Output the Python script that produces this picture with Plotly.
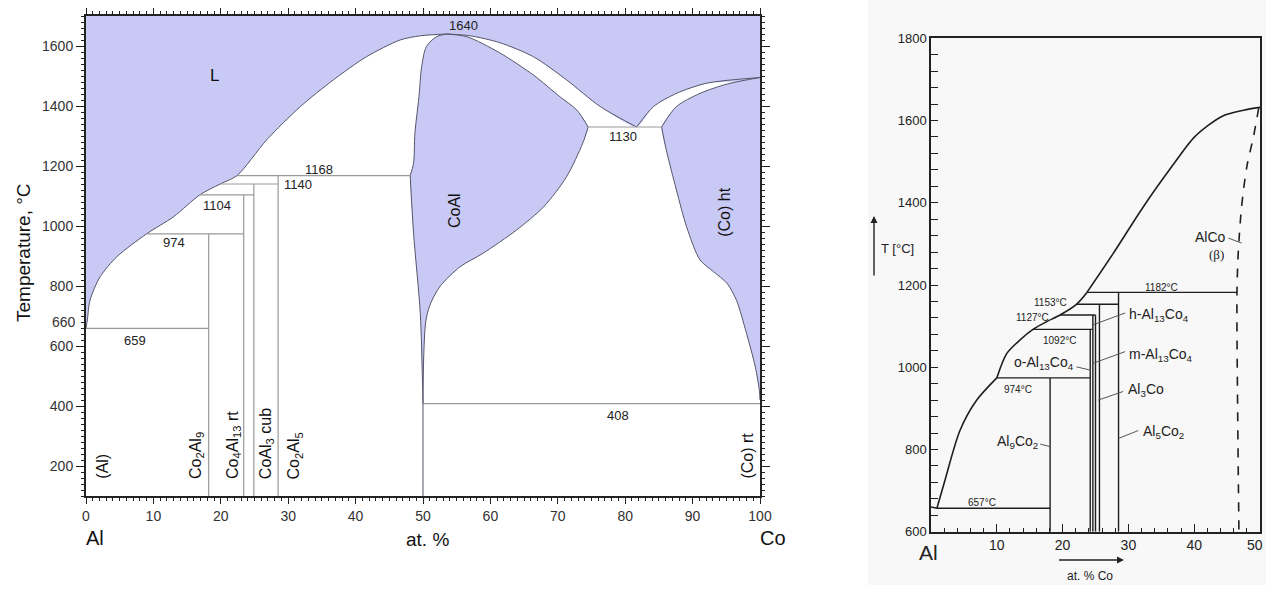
import plotly.graph_objects as go

OFF = 0
W, H = 1266, 615

# ================= LEFT DIAGRAM (full Al–Co system) =================
liqA_x = [0, 0.2, 0.6, 2.1, 4.6, 9.0, 13.0, 16.9, 19.9, 22.4, 26.8, 31.8, 36.7, 41.6, 46.6, 49.6, 53.5]
liqA_T = [660, 687, 753, 831, 898, 974, 1031, 1104, 1140, 1168, 1287, 1398, 1487, 1564, 1620, 1634, 1640]
liqB_x = [53.5, 57.0, 61.4, 66.4, 71.3, 76.3, 81.7]
liqB_T = [1640, 1634, 1611, 1564, 1487, 1398, 1330]
liqC_x = [81.7, 84.2, 87.6, 92.1, 100]
liqC_T = [1330, 1398, 1442, 1476, 1495]
coalL_x = [50, 49.9, 49.6, 48.6, 48.1]
coalL_T = [408, 500, 709, 976, 1168]
coalU_x = [48.1, 48.6, 48.8, 49.4, 49.8, 50.5, 52.0, 53.5]
coalU_T = [1168, 1209, 1309, 1431, 1531, 1598, 1631, 1640]
coalR_x = [53.5, 56.5, 61.4, 66.4, 70.3, 72.8, 74.5]
coalR_T = [1640, 1631, 1577, 1503, 1431, 1387, 1330]
coalB_x = [74.5, 73.7, 71.3, 67.9, 63.9, 58.9, 55.5, 52.5, 51.0, 50.4, 50.1, 50]
coalB_T = [1330, 1276, 1164, 1064, 987, 909, 864, 798, 735, 680, 560, 408]
cohtS_x = [85.4, 87.6, 91.1, 95.1, 100]
cohtS_T = [1330, 1398, 1442, 1473, 1495]
cohtB_x = [85.4, 86.1, 87.6, 89.1, 91.1, 93.1, 95.1, 96.5, 98.0, 99.3, 99.9, 100]
cohtB_T = [1330, 1253, 1120, 998, 887, 848, 809, 753, 642, 531, 453, 420]
iso_T = [659, 974, 1104, 1140, 1168, 1330, 408]
iso_x0 = [0, 9.0, 16.9, 19.9, 22.4, 74.5, 50]
iso_x1 = [18.2, 23.4, 24.9, 28.5, 48.1, 85.4, 100]
iso_lbl = ["659", "974", "1104", "1140", "1168", "1130", "408"]
iso_lbl_x = [7.3, 13.0, 19.4, 31.5, 34.5, 79.7, 79.0]
iso_lbl_T = [617, 944, 1070, 1137, 1190, 1298, 370]
ph_x = [18.2, 23.4, 24.9, 28.5]
ph_Ttop = [974, 1104, 1140, 1168]
ph_lbl = ["Co<sub>2</sub>Al<sub>9</sub>", "Co<sub>4</sub>Al<sub>13</sub> rt",
          "CoAl<sub>3</sub> cub", "Co<sub>2</sub>Al<sub>5</sub>"]
ph_lbl_x = [16.4, 21.8, 26.8, 31.0]
L_ticks = [200, 400, 600, 800, 1000, 1200, 1400, 1600]

# ================= RIGHT DIAGRAM (Al-rich part) =================
rliqA_x = [0, 0.9]
rliqA_T = [660, 657]
rliqB_x = [0.9, 2.1, 4.4, 6.9, 10.0]
rliqB_T = [657, 724, 846, 919, 974]
rliqC_x = [10.0, 11.5, 13.5, 15.5, 17.6, 19.6, 22.1, 23.7]
rliqC_T = [974, 1033, 1066, 1092, 1111, 1127, 1153, 1182]
rliqD_x = [23.7, 27.7, 32.3, 36.6, 40.1, 44.2, 47.5, 50]
rliqD_T = [1182, 1277, 1391, 1488, 1561, 1610, 1625, 1632]
r_dash_x = [49.8, 49.0, 48.0, 47.2, 46.7, 46.5, 46.6, 46.8]
r_dash_T = [1630, 1560, 1488, 1390, 1280, 1182, 900, 600]
r_iso_T = [657, 974, 1092, 1127, 1153, 1182]
r_iso_x0 = [0.9, 10.0, 15.5, 19.6, 22.1, 23.7]
r_iso_x1 = [18.1, 24.2, 24.6, 25.0, 28.5, 46.5]
r_iso_lbl = ["657°C", "974°C", "1092°C", "1127°C", "1153°C", "1182°C"]
r_iso_lbl_x = [7.7, 13.2, 19.6, 15.5, 18.1, 35.1]
r_iso_lbl_T = [671, 947, 1066, 1120, 1157, 1195]
r_ph_x = [18.1, 24.2, 24.6, 25.0, 25.6, 28.5]
r_ph_Ttop = [974, 1092, 1127, 1127, 1153, 1182]
r_lbl_text = ["h-Al<sub>13</sub>Co<sub>4</sub>", "m-Al<sub>13</sub>Co<sub>4</sub>",
              "o-Al<sub>13</sub>Co<sub>4</sub>", "Al<sub>3</sub>Co", "Al<sub>5</sub>Co<sub>2</sub>",
              "Al<sub>9</sub>Co<sub>2</sub>", "AlCo"]
r_lbl_x = [29.8, 29.8, 22.0, 29.6, 31.9, 16.5, 45.1]
r_lbl_T = [1127, 1030, 1011, 945, 843, 817, 1317]
r_lbl_anchor = ["left", "left", "right", "left", "left", "right", "right"]
r_lead_x0 = [29.5, 29.5, 22.1, 29.2, 31.5, 16.6, 45.2]
r_lead_T0 = [1132, 1038, 1001, 941, 846, 813, 1314]
r_lead_x1 = [24.6, 24.7, 24.2, 25.4, 28.5, 18.1, 47.2]
r_lead_T1 = [1103, 1010, 993, 920, 827, 807, 1302]
R_ticks = [600, 800, 1000, 1200, 1400, 1600, 1800]
R_xticks = [10, 20, 30, 40, 50]
R_xticktext = ["10", "20", "30", "40", ""]   # "50" is drawn right-aligned at the page edge

FILL = "#c9c9f6"
EDGE = "#55556a"
GRAY = "#9a9a9a"
INK = "#1e1e1e"
FONT = "Liberation Sans, Arial, sans-serif"


def px(x):
    return (x - OFF) / W


def py(y):
    return 1 - (y - OFF) / H


def segs(x0, x1, y0, y1):
    xs, ys = [], []
    for a, b, c, d in zip(x0, x1, y0, y1):
        xs += [a, b, None]
        ys += [c, d, None]
    return xs, ys


fig = go.Figure()


def fill_poly(xs, ys, ax="x", ay="y"):
    fig.add_trace(go.Scatter(x=xs, y=ys, fill="toself", fillcolor=FILL, mode="lines",
                             line=dict(color="rgba(0,0,0,0)", width=0, shape="spline", smoothing=0.6),
                             xaxis=ax, yaxis=ay, hoverinfo="skip"))


def curve(xs, ys, color, width, ax="x", ay="y", dash="solid", smooth=0.8):
    fig.add_trace(go.Scatter(x=xs, y=ys, mode="lines",
                             line=dict(color=color, width=width, dash=dash, shape="spline", smoothing=smooth),
                             xaxis=ax, yaxis=ay, hoverinfo="skip"))


fill_poly(liqA_x + liqB_x[1:] + liqC_x[1:] + [100, 100, 0, 0],
          liqA_T + liqB_T[1:] + liqC_T[1:] + [1600, 1700, 1700, 1000])
fill_poly(coalL_x + coalU_x[1:] + coalR_x[1:] + coalB_x[1:],
          coalL_T + coalU_T[1:] + coalR_T[1:] + coalB_T[1:])
fill_poly(cohtS_x + cohtB_x[::-1][1:], cohtS_T + cohtB_T[::-1][1:])

for cx, cy in [(liqA_x, liqA_T), (liqB_x, liqB_T), (liqC_x, liqC_T), (coalL_x, coalL_T),
               (coalU_x, coalU_T), (coalR_x, coalR_T), (coalB_x, coalB_T),
               (cohtS_x, cohtS_T), (cohtB_x, cohtB_T)]:
    curve(cx, cy, EDGE, 1)

xs, ys = segs(iso_x0, iso_x1, iso_T, iso_T)
fig.add_trace(go.Scatter(x=xs, y=ys, mode="lines", line=dict(color=GRAY, width=1.2),
                         xaxis="x", yaxis="y", hoverinfo="skip"))
xs, ys = segs(ph_x, ph_x, [100] * len(ph_x), ph_Ttop)
fig.add_trace(go.Scatter(x=xs, y=ys, mode="lines", line=dict(color=GRAY, width=1.2),
                         xaxis="x", yaxis="y", hoverinfo="skip"))
fig.add_trace(go.Scatter(x=[50, 50], y=[100, 408], mode="lines", line=dict(color=EDGE, width=1),
                         xaxis="x", yaxis="y", hoverinfo="skip"))

for cx, cy in [(rliqA_x, rliqA_T), (rliqB_x, rliqB_T), (rliqC_x, rliqC_T), (rliqD_x, rliqD_T)]:
    curve(cx, cy, INK, 1.6, "x2", "y2")
curve(r_dash_x, r_dash_T, INK, 1.6, "x2", "y2", dash="dash")
xs, ys = segs(r_iso_x0, r_iso_x1, r_iso_T, r_iso_T)
fig.add_trace(go.Scatter(x=xs, y=ys, mode="lines", line=dict(color=INK, width=1.4),
                         xaxis="x2", yaxis="y2", hoverinfo="skip"))
xs, ys = segs(r_ph_x, r_ph_x, [600] * len(r_ph_x), r_ph_Ttop)
fig.add_trace(go.Scatter(x=xs, y=ys, mode="lines", line=dict(color=INK, width=1.4),
                         xaxis="x2", yaxis="y2", hoverinfo="skip"))
xs, ys = segs(r_lead_x0, r_lead_x1, r_lead_T0, r_lead_T1)
fig.add_trace(go.Scatter(x=xs, y=ys, mode="lines", line=dict(color="#555", width=1),
                         xaxis="x2", yaxis="y2", hoverinfo="skip"))

ann = []


def pann(text, x, y, size, angle=0, xa="center", ya="middle", color="#111", **kw):
    ann.append(dict(text=text, x=px(x), y=py(y), xref="paper", yref="paper", xanchor=xa, yanchor=ya,
                    textangle=angle, showarrow=False, font=dict(size=size, color=color), **kw))


for t, x, y in zip(iso_lbl, iso_lbl_x, iso_lbl_T):
    ann.append(dict(text=t, x=x, y=y, xref="x", yref="y", showarrow=False,
                    font=dict(size=13, color="#222")))
ann.append(dict(text="1640", x=56, y=1667, xref="x", yref="y", showarrow=False, font=dict(size=13, color="#222")))
ann.append(dict(text="1495", x=101.0, y=1500, xref="x", yref="y", xanchor="left", showarrow=False,
                font=dict(size=13, color="#222")))
ann.append(dict(text="660", x=px(78), y=660, xref="paper", yref="y", xanchor="right", yanchor="middle",
                yshift=6, showarrow=False, font=dict(size=14, color="#333")))
ann.append(dict(text="L", x=19.1, y=1503, xref="x", yref="y", showarrow=False, font=dict(size=17, color="#111")))
ann.append(dict(text="CoAl", x=54.6, y=1050, xref="x", yref="y", textangle=-90, showarrow=False,
                font=dict(size=16, color="#111")))
ann.append(dict(text="(Co) ht", x=94.7, y=1045, xref="x", yref="y", textangle=-90, showarrow=False,
                font=dict(size=16, color="#111")))
ann.append(dict(text="(Co) rt", x=98.0, y=150, xref="x", yref="y", textangle=-90, yanchor="bottom",
                showarrow=False, font=dict(size=16, color="#111")))
ann.append(dict(text="(Al)", x=2.4, y=150, xref="x", yref="y", textangle=-90, yanchor="bottom",
                showarrow=False, font=dict(size=16, color="#111")))
for t, x in zip(ph_lbl, ph_lbl_x):
    ann.append(dict(text=t, x=x, y=150, xref="x", yref="y", textangle=-90, yanchor="bottom",
                    showarrow=False, font=dict(size=16, color="#111")))
pann("Al", 95, 538, 20)
pann("at. %", 428, 539, 19)
pann("Co", 773, 538, 20)
pann("Temperature, °C", 23, 253, 19, angle=-90)

for t, x, y in zip(r_iso_lbl, r_iso_lbl_x, r_iso_lbl_T):
    ann.append(dict(text=t, x=x, y=y, xref="x2", yref="y2", showarrow=False,
                    font=dict(size=10, color="#222")))
for t, x, y, a in zip(r_lbl_text, r_lbl_x, r_lbl_T, r_lbl_anchor):
    ann.append(dict(text=t, x=x, y=y, xref="x2", yref="y2", xanchor=a, showarrow=False,
                    font=dict(size=14, color="#222")))
ann.append(dict(text="(β)", x=43.4, y=1273, xref="x2", yref="y2", showarrow=False,
                font=dict(size=13, color="#222", family="Liberation Serif, serif")))
pann("T [°C]", 897, 248, 13, color="#222")
pann("at. % Co", 1090, 576, 12, color="#222")
pann("Al", 928, 552, 21, color="#222")
pann(str(R_xticks[-1]), 1265, 545, 14, xa="right", color="#222")
ann.append(dict(text=" ", x=px(874), y=py(216), xref="paper", yref="paper", showarrow=True,
                ax=0, ay=68, arrowhead=2, arrowsize=1, arrowwidth=1.4, arrowcolor="#222"))
ann.append(dict(text=" ", x=px(1124), y=py(560), xref="paper", yref="paper", showarrow=True,
                ax=-68, ay=0, arrowhead=2, arrowsize=1, arrowwidth=1.4, arrowcolor="#222"))

fig.update_layout(
    width=W, height=H, margin=dict(l=0, r=0, t=0, b=0, autoexpand=False),
    paper_bgcolor="white", plot_bgcolor="rgba(0,0,0,0)",
    showlegend=False, font=dict(family=FONT, color="#222"),
    annotations=ann,
    shapes=[dict(type="rect", xref="paper", yref="paper", x0=px(868), x1=1.0, y0=py(585), y1=1.0,
                 fillcolor="#f8f8f8", line=dict(width=0), layer="below")],
    xaxis=dict(domain=[px(86), px(760)], range=[0, 100], showgrid=False, zeroline=False, automargin=False,
               showline=True, linecolor="#222", linewidth=2, mirror="ticks",
               ticks="outside", ticklen=6, tickwidth=1.2, tickcolor="#222", dtick=10, tick0=0,
               tickfont=dict(size=14, color="#333"), ticklabeloverflow="allow",
               minor=dict(dtick=1, ticks="outside", ticklen=3, tickcolor="#222", showgrid=False)),
    yaxis=dict(domain=[py(496), py(16)], range=[100, 1700], showgrid=False, zeroline=False,
               automargin=False,
               showline=True, linecolor="#222", linewidth=2, mirror="ticks",
               ticks="outside", ticklen=8, tickwidth=1.2, tickcolor="#222",
               tickmode="array", tickvals=L_ticks, tickfont=dict(size=14, color="#333"),
               minor=dict(dtick=20, tick0=0, ticks="outside", ticklen=3, tickcolor="#222", showgrid=False)),
    xaxis2=dict(domain=[px(931), px(1260)], range=[0, 50], anchor="y2", showgrid=False, zeroline=False,
                automargin=False, ticklabeloverflow="allow",
                showline=True, linecolor="#222", linewidth=1.5, mirror=True,
                ticks="inside", ticklen=8, tickwidth=1.3, tickcolor="#222",
                tickmode="array", tickvals=R_xticks, ticktext=R_xticktext, tickfont=dict(size=14, color="#222"),
                minor=dict(dtick=2, tick0=0, ticks="inside", ticklen=4, tickcolor="#222", showgrid=False)),
    yaxis2=dict(domain=[py(531.7), py(38.3)], range=[600, 1800], anchor="x2", showgrid=False,
                automargin=False,
                zeroline=False, showline=True, linecolor="#222", linewidth=1.5, mirror=True,
                ticks="inside", ticklen=7, tickwidth=1.3, tickcolor="#222",
                tickmode="array", tickvals=R_ticks, tickfont=dict(size=13, color="#222"),
                minor=dict(dtick=40, tick0=0, ticks="inside", ticklen=7, tickcolor="#222", showgrid=False)),
)

fig.write_html("out.html", config={"displayModeBar": False},
               post_script="document.body.style.margin='0';document.body.style.overflow='hidden';")
